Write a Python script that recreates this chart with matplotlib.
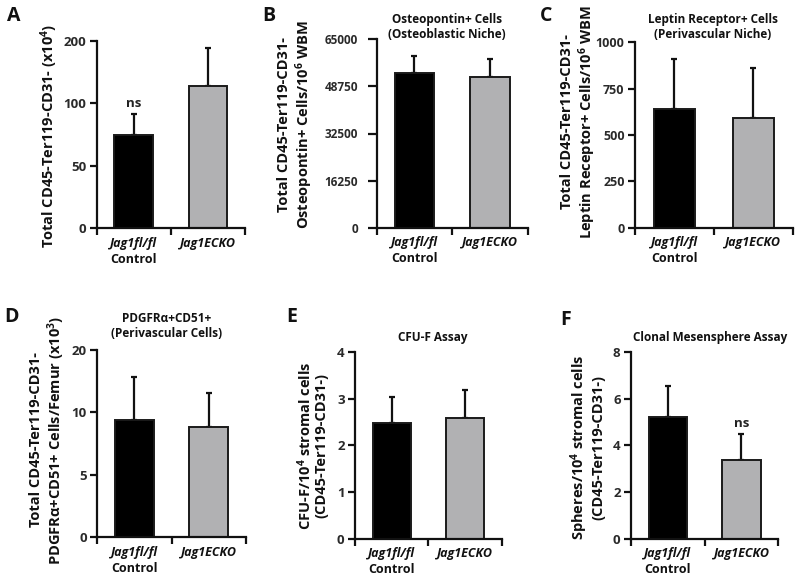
import numpy as np
import matplotlib
matplotlib.use("Agg")
import matplotlib.pyplot as plt

plt.rcParams['font.family'] = ['Open Sans', 'DejaVu Sans']
plt.rcParams['font.weight'] = 'bold'
plt.rcParams['mathtext.fontset'] = 'custom'
plt.rcParams['mathtext.rm'] = 'Open Sans:bold'
plt.rcParams['mathtext.bf'] = 'Open Sans:bold'
plt.rcParams['mathtext.it'] = 'Open Sans:bold:italic'
plt.rcParams['mathtext.default'] = 'rm'

categories = ['Jag1fl/fl', 'Jag1ECKO']
colors = ['#000000', '#b1b1b3']

a_mean = [75, 127]
a_err = [16, 62]
b_mean = [53300, 51900]
b_err = [6000, 6400]
c_mean = [638, 593]
c_err = [272, 268]
d_mean = [9.4, 8.8]
d_err = [6.3, 4.3]
e_mean = [2.48, 2.58]
e_err = [0.56, 0.60]
f_mean = [5.2, 3.37]
f_err = [1.33, 1.11]

a_ticks = [0, 50, 100, 200]
b_ticks = [0, 16250, 32500, 48750, 65000]
c_ticks = [0, 250, 500, 750, 1000]
d_ticks = [0, 5, 10, 20]
e_ticks = [0, 1, 2, 3, 4]
f_ticks = [0, 2, 4, 6, 8]

W, H = 800, 581
fig = plt.figure(figsize=(W / 100, H / 100), dpi=100)


def px_axes(l, r, t, b):
    return fig.add_axes([l / W, 1 - b / H, (r - l) / W, (b - t) / H])


def seg_scale(ticks):
    idx = np.arange(len(ticks), dtype=float)
    t = np.asarray(ticks, dtype=float)

    def fwd(v):
        v = np.asarray(v, dtype=float)
        return np.interp(v, t, idx, left=-1, right=len(ticks))

    def inv(u):
        u = np.asarray(u, dtype=float)
        return np.interp(u, idx, t)
    return fwd, inv


def panel(box, means, errs, ticks, segmented=False, ns_idx=None, ypad=2.5,
          ylen=5, tsize=9.5):
    ax = px_axes(*box)
    x = np.arange(len(categories))
    if segmented:
        ax.set_yscale('function', functions=seg_scale(ticks))
    ax.errorbar(x, means, yerr=[np.zeros(len(errs)), errs], fmt='none',
                ecolor='#111111', elinewidth=1.6, capsize=2.5, capthick=1.6, zorder=1)
    ax.bar(x, means, width=0.52, color=colors, edgecolor='#1a1a1a',
           linewidth=1.4, zorder=2)
    ax.set_xlim(-0.5, 1.5)
    ax.set_ylim(ticks[0], ticks[-1])
    ax.set_yticks(ticks)
    ax.set_yticklabels([str(t) for t in ticks])
    ax.yaxis.set_minor_locator(matplotlib.ticker.NullLocator())
    ax.set_xticks([-0.5, 0.5, 1.5])
    ax.set_xticklabels([])
    for i, c in enumerate(categories):
        ax.annotate(c, xy=(i, 0), xycoords=('data', 'axes fraction'),
                    xytext=(0, -6), textcoords='offset points',
                    ha='center', va='top', fontsize=9, style='italic',
                    fontweight='bold', color='#111111')
    ax.annotate('Control', xy=(0, 0), xycoords=('data', 'axes fraction'),
                xytext=(0, -17.5), textcoords='offset points',
                ha='center', va='top', fontsize=9, fontweight='bold',
                color='#111111')
    for s in ['top', 'right']:
        ax.spines[s].set_visible(False)
    for s in ['left', 'bottom']:
        ax.spines[s].set_linewidth(1.6)
        ax.spines[s].set_color('#111111')
    ax.tick_params(axis='x', direction='out', width=1.6, length=5,
                   color='#111111')
    ax.tick_params(axis='y', direction='out', width=1.6, length=ylen,
                   labelsize=tsize, pad=ypad, color='#111111')
    for lab in ax.get_yticklabels():
        lab.set_fontweight('bold')
        lab.set_color('#2a2a2a')
    if ns_idx is not None:
        top = means[ns_idx] + errs[ns_idx]
        ax.annotate('ns', xy=(ns_idx, top), xycoords='data',
                    xytext=(0, 3), textcoords='offset points',
                    ha='center', va='bottom', fontsize=9.5, fontweight='bold',
                    color='#222222')
    return ax


panel((96.7, 245, 40.7, 228.3), a_mean, a_err, a_ticks, segmented=True, ns_idx=0)
panel((376.7, 527.7, 39.3, 227.7), b_mean, b_err, b_ticks, ypad=7, ylen=6.5,
      tsize=8.5)
panel((635, 792.7, 42.3, 227.7), c_mean, c_err, c_ticks, tsize=9)
panel((97.3, 246, 350, 537.3), d_mean, d_err, d_ticks, segmented=True)
panel((355, 501.7, 351.7, 539), e_mean, e_err, e_ticks)
panel((631, 778.3, 351.7, 539), f_mean, f_err, f_ticks, ns_idx=1)


def ftext(x, y, s, **kw):
    fig.text(x / W, 1 - y / H, s, **kw)


ylab_kw = dict(rotation=90, ha='center', va='center', fontsize=10.5,
               fontweight='bold', multialignment='center', linespacing=1.1,
               color='#111111')
ftext(49, 136, 'Total CD45-Ter119-CD31- (x10$^4$)', **ylab_kw)
ftext(296, 125, 'Total CD45-Ter119-CD31-\nOsteopontin+ Cells/10$^6$ WBM', **ylab_kw)
ftext(579, 122, 'Total CD45-Ter119-CD31-\nLeptin Receptor+ Cells/10$^6$ WBM', **ylab_kw)
ftext(48, 440, 'Total CD45-Ter119-CD31-\nPDGFR\u03b1+CD51+ Cells/Femur (x10$^3$)', **ylab_kw)
ftext(312, 446, 'CFU-F/10$^4$ stromal cells\n(CD45-Ter119-CD31-)', **ylab_kw)
ftext(587, 447, 'Spheres/10$^4$ stromal cells\n(CD45-Ter119-CD31-)', **ylab_kw)

title_kw = dict(ha='center', va='center', fontsize=8.5, fontweight='bold',
                multialignment='center', linespacing=1.2, color='#111111')
ftext(447, 27, 'Osteopontin+ Cells\n(Osteoblastic Niche)', **title_kw)
ftext(713, 27, 'Leptin Receptor+ Cells\n(Perivascular Niche)', **title_kw)
ftext(167, 326, 'PDGFR\u03b1+CD51+\n(Perivascular Cells)', **title_kw)
ftext(433, 337, 'CFU-F Assay', **title_kw)
ftext(710, 337, 'Clonal Mesensphere Assay', **title_kw)

let_kw = dict(ha='left', va='center', fontsize=14, fontweight='bold', color='#111111')
ftext(7, 16, 'A', **let_kw)
ftext(262, 16, 'B', **let_kw)
ftext(540, 16, 'C', **let_kw)
ftext(4, 317, 'D', **let_kw)
ftext(286, 317, 'E', **let_kw)
ftext(560, 320, 'F', **let_kw)

fig.savefig('out.png', dpi=100)
